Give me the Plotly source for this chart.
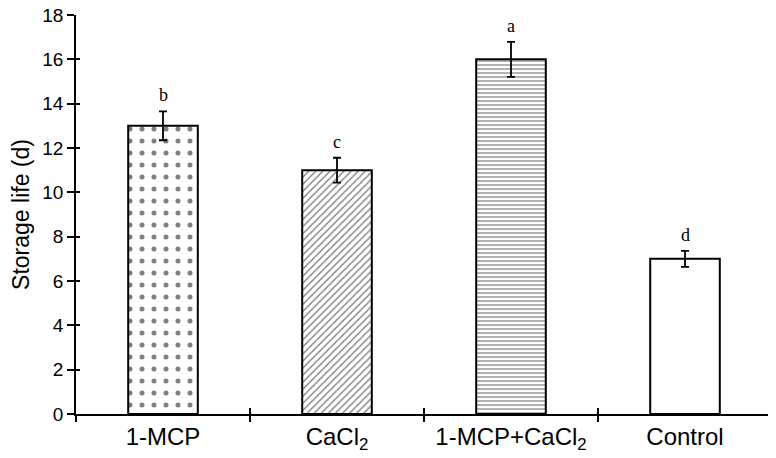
import plotly.graph_objects as go

categories = ["1-MCP", "CaCl<sub>2</sub>", "1-MCP+CaCl<sub>2</sub>", "Control"]
values = [13, 11, 16, 7]
errors = [0.65, 0.56, 0.79, 0.36]
letters = ["b", "c", "a", "d"]
patterns = [".", "/", "-", ""]
y_ticks = [0, 2, 4, 6, 8, 10, 12, 14, 16, 18]
boundaries = [-0.5, 0.5, 1.5, 2.5, 3.5]

fig = go.Figure()
for c, v, e, l, p in zip(categories, values, errors, letters, patterns):
    size = {".": 12, "/": 5, "-": 4, "": 8}[p]
    sol = {".": 0.14, "/": 0.28, "-": 0.3, "": 0.2}[p]
    fig.add_trace(go.Bar(
        x=[c], y=[v], width=0.4,
        marker=dict(color="white", line=dict(color="black", width=2),
                    pattern=dict(shape=p, fgcolor="black", bgcolor="white",
                                 size=size, solidity=sol)),
        error_y=dict(type="data", array=[e], color="black", thickness=1.8, width=4),
        showlegend=False,
    ))
    fig.add_annotation(x=c, y=v + e, text=l, showarrow=False, yanchor="bottom", yshift=4,
                       font=dict(family="Liberation Serif", size=18, color="black"))

# invisible point so the overlay axes (inner halves of the crossing ticks) are drawn
fig.add_trace(go.Scatter(x=[0], y=[0], xaxis="x2", yaxis="y2", mode="markers",
                         marker=dict(opacity=0), showlegend=False, hoverinfo="skip"))

fig.update_layout(
    width=768, height=450,
    margin=dict(l=68, r=4, t=7, b=44),
    paper_bgcolor="white", plot_bgcolor="white",
    barmode="overlay",
    font=dict(family="Liberation Sans", color="black"),
    xaxis=dict(showline=True, linecolor="black", linewidth=1.5, ticks="outside",
               tickson="boundaries", ticklen=6, tickwidth=1.5, tickcolor="black",
               range=[-0.5, 3.5], automargin=False,
               tickfont=dict(size=24), categoryorder="array", categoryarray=categories),
    xaxis2=dict(overlaying="x", range=[-0.5, 3.5], tickvals=boundaries, ticks="inside",
                ticklen=6, tickwidth=1.5, tickcolor="black", showticklabels=False,
                showgrid=False, zeroline=False, showline=False, side="bottom",
                anchor="y2", automargin=False),
    yaxis=dict(range=[0, 18], tickvals=y_ticks, showline=True, linecolor="black",
               linewidth=1.5, ticks="outside", ticklen=7, tickwidth=1.5,
               tickcolor="black", showgrid=False, zeroline=False, automargin=False,
               tickfont=dict(size=19), ticklabeloverflow="allow",
               title=dict(text="Storage life (d)", font=dict(size=23), standoff=24)),
    yaxis2=dict(overlaying="y", range=[0, 18], tickvals=y_ticks, ticks="inside",
                ticklen=4, tickwidth=1.5, tickcolor="black", showticklabels=False,
                showgrid=False, zeroline=False, showline=False, side="left",
                anchor="x2", automargin=False),
)
fig.write_html("out.html")
